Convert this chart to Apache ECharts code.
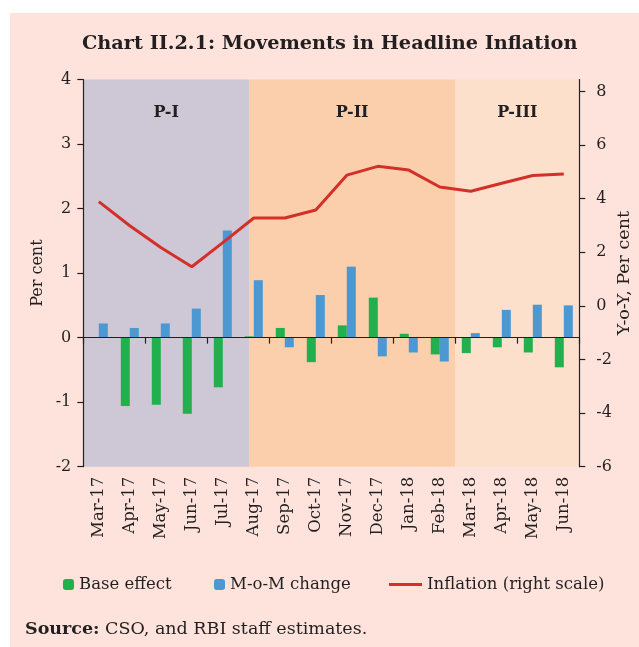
<!DOCTYPE html>
<html>
<head>
<meta charset="utf-8">
<script src="https://cdn.jsdelivr.net/npm/echarts@6/dist/echarts.min.js"></script>
<style>
html,body{margin:0;padding:0;background:#fff;}
#c{width:639px;height:647px;}
</style>
</head>
<body>
<div id="c"></div>
<script>
var months = ['Mar-17','Apr-17','May-17','Jun-17','Jul-17','Aug-17','Sep-17','Oct-17','Nov-17','Dec-17','Jan-18','Feb-18','Mar-18','Apr-18','May-18','Jun-18'];
var baseEffect = [0, -1.06, -1.04, -1.18, -0.77, 0.02, 0.15, -0.38, 0.19, 0.62, 0.06, -0.26, -0.24, -0.15, -0.23, -0.46];
var momChange = [0.22, 0.15, 0.22, 0.45, 1.66, 0.89, -0.15, 0.66, 1.10, -0.29, -0.23, -0.37, 0.07, 0.43, 0.51, 0.50];
var inflation = [3.89, 2.99, 2.18, 1.46, 2.36, 3.28, 3.28, 3.58, 4.88, 5.21, 5.07, 4.44, 4.28, 4.58, 4.87, 4.92];
var leftTicks = [-2, -1, 0, 1, 2, 3, 4];
var rightTicks = [-6, -4, -2, 0, 2, 4, 6, 8];
var periods = [
  {name: 'P-I', from: -0.5, to: 4.85, color: '#cec8d6'},
  {name: 'P-II', from: 4.85, to: 11.5, color: '#fbcfac'},
  {name: 'P-III', from: 11.5, to: 15.5, color: '#fde0cb'}
];

var FONT = 'DejaVu Serif';
var TXT = '#231f20';
var chart = echarts.init(document.getElementById('c'), null, {renderer: 'canvas'});

var option = {
  backgroundColor: '#ffffff',
  animation: false,
  textStyle: {fontFamily: FONT, color: TXT},
  graphic: [
    {type: 'rect', z: -100, shape: {x: 10, y: 13, width: 629, height: 634}, style: {fill: '#fde3dc'}},
    {type: 'text', left: 25, top: 620, z: 10,
     style: {text: '{b|Source:} CSO, and RBI staff estimates.', font: '17.5px "DejaVu Serif"', fill: TXT,
       rich: {b: {fontWeight: 'bold', fontFamily: FONT, fontSize: 17.5, fill: TXT}}}}
  ],
  title: {
    text: 'Chart II.2.1: Movements in Headline Inflation',
    left: 77, top: 29,
    textStyle: {fontFamily: FONT, fontWeight: 'bold', fontSize: 19.3, color: TXT}
  },
  legend: [
    {data: ['Base effect'], left: 58, top: 571, itemWidth: 11, itemHeight: 11, itemGap: 6,
     textStyle: {fontFamily: FONT, fontSize: 16.5, color: TXT}},
    {data: ['M-o-M change'], left: 209, top: 571, itemWidth: 11, itemHeight: 11,
     textStyle: {fontFamily: FONT, fontSize: 16.5, color: TXT}},
    {data: [{name: 'Inflation (right scale)', icon: 'path://M0,0H33V3H0Z'}], left: 384, top: 571, itemWidth: 33, itemHeight: 3,
     textStyle: {fontFamily: FONT, fontSize: 16.5, color: TXT}}
  ],
  grid: {left: 83.3, right: 59.7, top: 79.5, bottom: 180.3, show: false, outerBoundsMode: 'none', containLabel: false},
  xAxis: [
    {type: 'category', data: months, z: 5,
     axisLine: {onZero: true, onZeroAxisIndex: 0, lineStyle: {color: TXT, width: 1.2}},
     axisTick: {show: true, inside: false, length: 6, lineStyle: {color: TXT, width: 1.2}},
     axisLabel: {show: false}, splitLine: {show: false}},
    {type: 'value', min: -0.5, max: 15.5, show: false},
    {type: 'category', data: months, position: 'bottom', z: 5,
     axisLine: {show: false, onZero: false}, axisTick: {show: false},
     axisLabel: {rotate: 90, margin: 10, fontFamily: FONT, fontSize: 16.5, color: TXT, interval: 0},
     splitLine: {show: false}}
  ],
  yAxis: [
    {type: 'value', min: -2, max: 4, interval: 1, position: 'left', z: 5,
     name: 'Per cent', nameLocation: 'middle', nameGap: 37.5, nameRotate: 90, nameMoveOverlap: false,
     nameTextStyle: {fontFamily: FONT, fontSize: 16, color: TXT},
     axisLine: {show: true, onZero: false, lineStyle: {color: TXT, width: 1.2}},
     axisTick: {show: true, length: 6, lineStyle: {color: TXT, width: 1.2}},
     axisLabel: {fontFamily: FONT, fontSize: 16, color: TXT, margin: 12,
       customValues: leftTicks},
     splitLine: {show: false}},
    {type: 'value', min: -6, max: 8.45, position: 'right', z: 5,
     name: 'Y-o-Y, Per cent', nameLocation: 'middle', nameGap: 36, nameRotate: 90, nameMoveOverlap: false,
     nameTextStyle: {fontFamily: FONT, fontSize: 17.5, color: TXT},
     axisLine: {show: true, onZero: false, lineStyle: {color: TXT, width: 1.2}},
     axisTick: {show: true, length: 6, lineStyle: {color: TXT, width: 1.2}, customValues: rightTicks},
     axisLabel: {fontFamily: FONT, fontSize: 16, color: TXT, margin: 17, customValues: rightTicks},
     splitLine: {show: false}}
  ],
  series: [
    {type: 'line', name: 'periods', xAxisIndex: 1, yAxisIndex: 0, data: [], z: 0, silent: true,
     markArea: {silent: true,
       label: {show: true, position: 'insideTop', distance: 25, fontFamily: FONT, fontWeight: 'bold', fontSize: 16, color: TXT},
       data: periods.map(function (p) {
         return [{xAxis: p.from, name: p.name, itemStyle: {color: p.color, opacity: 1}}, {xAxis: p.to}];
       })}},
    {type: 'bar', name: 'Base effect', data: baseEffect, xAxisIndex: 0, yAxisIndex: 0,
     barWidth: 9, barGap: '0%', itemStyle: {color: '#22b04f'}, z: 2},
    {type: 'bar', name: 'M-o-M change', data: momChange, xAxisIndex: 0, yAxisIndex: 0,
     barWidth: 9, barGap: '0%', itemStyle: {color: '#4b98d3'}, z: 2},
    {type: 'line', name: 'Inflation (right scale)', data: inflation, xAxisIndex: 0, yAxisIndex: 1,
     symbol: 'none', showSymbol: false, lineStyle: {color: '#d4302a', width: 3}, itemStyle: {color: '#d4302a'}, z: 3}
  ]
};
chart.setOption(option);
</script>
</body>
</html>
